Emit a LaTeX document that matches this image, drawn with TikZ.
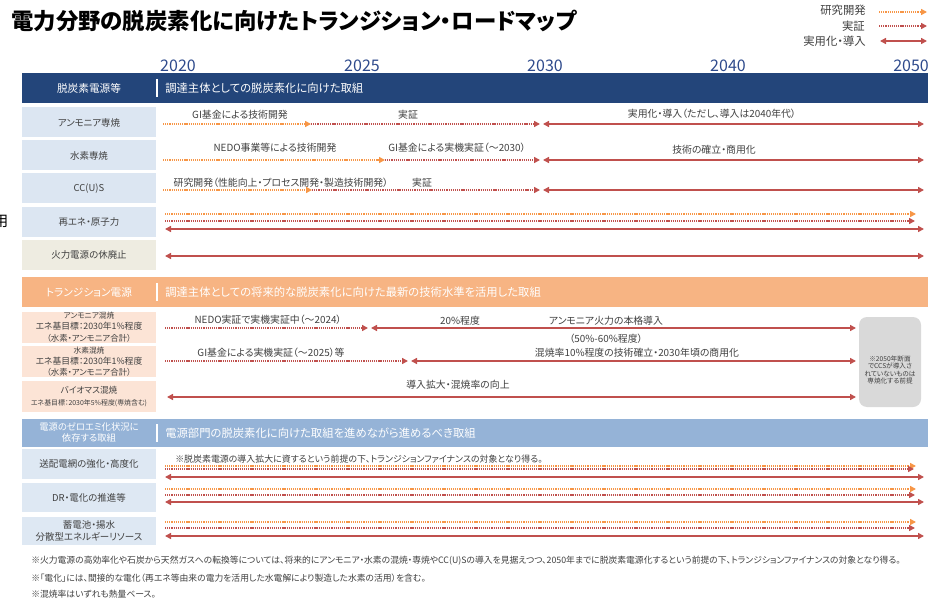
\documentclass[tikz,border=0pt]{standalone}
\usepackage{fontspec}
\setmainfont{Noto Sans CJK JP}[RawFeature=+palt]
\usetikzlibrary{arrows.meta}
\definecolor{navy}{HTML}{23457A}
\definecolor{yearc}{HTML}{2E4A8C}
\definecolor{orhdr}{HTML}{F7B483}
\definecolor{bluehdr}{HTML}{95B3D7}
\definecolor{cellb}{HTML}{DCE6F2}
\definecolor{cellg}{HTML}{EEECE1}
\definecolor{cello}{HTML}{FCE4D6}
\definecolor{cellc}{HTML}{DEE8F3}
\definecolor{devor}{HTML}{F79646}
\definecolor{redc}{HTML}{C0504D}
\definecolor{grayb}{HTML}{D9D9D9}
\definecolor{lbltxt}{HTML}{404040}
\newcommand\fsz[2]{\fontsize{#1}{#2}\selectfont}
\tikzset{
  Tri/.tip={Triangle[length=4.5pt,width=4.5pt]},
  hdrbox/.style={anchor=west, minimum width=679.5pt, minimum height=22.5pt, inner sep=0, draw=none},
  hdrtxt/.style={text=white, font=\fsz{8.5}{10}, inner sep=0},
  hdrsep/.style={draw=white, line width=0.8pt},
  cell/.style={minimum width=100.5pt, minimum height=22.5pt, inner sep=0, text=lbltxt, font=\fsz{7.1}{8.4}, align=center},
  lbl/.style={text=lbltxt, font=\fsz{7.4}{8.6}, inner sep=0},
  year/.style={text=yearc, font=\fsz{12}{14}, inner sep=0},
  legtxt/.style={text=lbltxt, font=\fsz{8.5}{10}, inner sep=0, anchor=east},
  note/.style={text=lbltxt, font=\fsz{6.6}{8}, inner sep=0, anchor=west},
  dev/.style={draw=devor, line width=1.2pt, dash pattern=on 0.9pt off 0.7pt, -{Tri[fill=devor]}},
  demo/.style={draw=redc, line width=1.2pt, dash pattern=on 0.9pt off 0.7pt, -{Tri[fill=redc]}},
  impl/.style={draw=redc, line width=1.4pt, {Tri[fill=redc]}-{Tri[fill=redc]}},
}
\begin{document}
\begin{tikzpicture}[x=0.75pt,y=-0.75pt]
\useasboundingbox (0,0) rectangle (928,606);
\fill[white] (0,0) rectangle (928,606);

% title and stray glyph
\node[anchor=west, font=\fsz{16.8}{19}\bfseries, inner sep=0] (title) at (11,21) {電力分野の脱炭素化に向けたトランジション・ロードマップ};
\node[font=\fsz{11}{13}, inner sep=0] (stray) at (1,221) {用};

% legend
\node[legtxt] (lg1) at (866,10) {研究開発};
\node[legtxt] (lg2) at (865,26) {実証};
\node[legtxt] (lg3) at (866,41) {実用化・導入};
\coordinate (lg1s) at (879,12); \coordinate (lg1e) at (927,12);
\coordinate (lg2s) at (879,26); \coordinate (lg2e) at (927,26);
\coordinate (lg3s) at (880,41); \coordinate (lg3e) at (927,41);
\draw[dev] (lg1s) -- (lg1e);
\draw[demo] (lg2s) -- (lg2e);
\draw[impl] (lg3s) -- (lg3e);

% years
\node[year] (y2020) at (178,66) {2020};
\node[year] (y2025) at (362,66) {2025};
\node[year] (y2030) at (545,66) {2030};
\node[year] (y2040) at (728,66) {2040};
\node[year] (y2050) at (911,66) {2050};

% ===== section 1 =====
\node[hdrbox, fill=navy] (h1) at (22,88) {};
\node[hdrtxt, font=\fsz{8}{10}] (h1l) at (89,88) {脱炭素電源等};
\draw[hdrsep] (157,79) -- (157,97);
\node[hdrtxt, anchor=west] (h1r) at (165,88) {調達主体としての脱炭素化に向けた取組};

\node[cell, fill=cellb] (r1) at (89,122.5) {アンモニア専焼};
\node[cell, fill=cellb] (r2) at (89,155.5) {水素専焼};
\node[cell, fill=cellb] (r3) at (89,188.5) {CC(U)S};
\node[cell, fill=cellb] (r4) at (89,222) {再エネ・原子力};
\node[cell, fill=cellg] (r5) at (89,255) {火力電源の休廃止};

% row 1
\coordinate (a1s) at (163,124); \coordinate (a1m) at (311,124);
\coordinate (a1d) at (540,124); \coordinate (a1i) at (543,124); \coordinate (a1e) at (924,124);
\draw[dev] (a1s) -- (a1m);
\draw[demo] (a1m) -- (a1d);
\draw[impl] (a1i) -- (a1e);
\node[lbl] (l1a) at (240,115) {GI基金による技術開発};
\node[lbl] (l1b) at (408,115) {実証};
\node[lbl] (l1c) at (712,114) {実用化・導入（ただし、導入は2040年代）};

% row 2
\coordinate (a2s) at (163,160); \coordinate (a2m) at (385,160);
\coordinate (a2d) at (540,160); \coordinate (a2i) at (543,160); \coordinate (a2e) at (924,160);
\draw[dev] (a2s) -- (a2m);
\draw[demo] (a2m) -- (a2d);
\draw[impl] (a2i) -- (a2e);
\node[lbl] (l2a) at (275,148) {NEDO事業等による技術開発};
\node[lbl] (l2b) at (457,148) {GI基金による実機実証（～2030）};
\node[lbl] (l2c) at (714,150) {技術の確立・商用化};

% row 3
\coordinate (a3s) at (163,190); \coordinate (a3m) at (312,190);
\coordinate (a3d) at (540,190); \coordinate (a3i) at (543,190); \coordinate (a3e) at (924,190);
\draw[dev] (a3s) -- (a3m);
\draw[demo] (a3m) -- (a3d);
\draw[impl] (a3i) -- (a3e);
\node[lbl] (l3a) at (281,183) {研究開発（性能向上・プロセス開発・製造技術開発）};
\node[lbl] (l3b) at (422,183) {実証};

% row 4
\coordinate (a4s1) at (165,214); \coordinate (a4e1) at (916,214);
\coordinate (a4s2) at (165,221); \coordinate (a4e2) at (915,221);
\coordinate (a4s3) at (165,229); \coordinate (a4e3) at (924,229);
\draw[dev] (a4s1) -- (a4e1);
\draw[demo] (a4s2) -- (a4e2);
\draw[impl] (a4s3) -- (a4e3);

% row 5
\coordinate (a5s) at (165,256); \coordinate (a5e) at (924,256);
\draw[impl] (a5s) -- (a5e);

% ===== section 2 =====
\node[hdrbox, fill=orhdr] (h2) at (22,292) {};
\node[hdrtxt, font=\fsz{8}{10}] (h2l) at (89,292) {トランジション電源};
\draw[hdrsep] (157,283) -- (157,301);
\node[hdrtxt, anchor=west] (h2r) at (165,292) {調達主体としての将来的な脱炭素化に向けた最新の技術水準を活用した取組};

\node[cell, fill=cello, minimum height=23.25pt] (s1) at (89,327) {{\fsz{5.8}{7}アンモニア混焼}\\{\fsz{6.6}{7.6}エネ基目標：2030年1\%程度}\\{\fsz{6.3}{7.4}（水素・アンモニア合計）}};
\node[cell, fill=cello, minimum height=23.25pt] (s2) at (89,361.5) {{\fsz{5.8}{7}水素混焼}\\{\fsz{6.6}{7.6}エネ基目標：2030年1\%程度}\\{\fsz{6.3}{7.4}（水素・アンモニア合計）}};
\node[cell, fill=cello, minimum height=23.25pt] (s3) at (89,396.5) {{\fsz{6.5}{8}バイオマス混焼}\\{\fsz{5.2}{6.5}エネ基目標：2030年5\%程度(専焼含む)}};

% row a
\coordinate (b1s) at (165,328); \coordinate (b1d) at (368,328);
\coordinate (b1i) at (371,328); \coordinate (b1e) at (856,328);
\draw[demo] (b1s) -- (b1d);
\draw[impl] (b1i) -- (b1e);
\node[lbl] (m1a) at (268,320) {NEDO実証で実機実証中（～2024）};
\node[lbl] (m1b) at (460,321) {20\%程度};
\node[lbl] (m1c) at (606,321) {アンモニア火力の本格導入};
\node[lbl] (m1d) at (606,339) {（50\%-60\%程度）};

% row b
\coordinate (b2s) at (165,361); \coordinate (b2d) at (408,361);
\coordinate (b2i) at (411,361); \coordinate (b2e) at (856,361);
\draw[demo] (b2s) -- (b2d);
\draw[impl] (b2i) -- (b2e);
\node[lbl] (m2a) at (271,353) {GI基金による実機実証（～2025）等};
\node[lbl] (m2b) at (637,353) {混焼率10\%程度の技術確立・2030年頃の商用化};

% row c
\coordinate (b3s) at (167,397); \coordinate (b3e) at (856,397);
\draw[impl] (b3s) -- (b3e);
\node[lbl] (m3a) at (458,385) {導入拡大・混焼率の向上};

% gray box
\node[fill=grayb, rounded corners=6pt, minimum width=46.5pt, minimum height=67.5pt, inner sep=0] (gbox) at (890,362) {};
\node[text=lbltxt, font=\fsz{5}{5.4}, align=center, inner sep=0] (gtxt) at (890,370) {※2050年断面\\でCCSが導入さ\\れていないものは\\専焼化する前提};

% ===== section 3 =====
\node[hdrbox, fill=bluehdr, minimum height=21pt] (h3) at (22,433) {};
\node[hdrtxt, font=\fsz{7}{8.2}, align=center] (h3l) at (89,432) {電源のゼロエミ化状況に\\依存する取組};
\draw[hdrsep] (157,424) -- (157,442);
\node[hdrtxt, anchor=west] (h3r) at (165,433) {電源部門の脱炭素化に向けた取組を進めながら進めるべき取組};

\node[cell, fill=cellc] (t1) at (89,464) {送配電網の強化・高度化};
\node[cell, fill=cellc, minimum height=21.75pt] (t2) at (89,497.5) {DR・電化の推進等};
\node[cell, fill=cellc, minimum height=21pt] (t3) at (89,531) {蓄電池・揚水\\分散型エネルギーリソース};

% row i
\node[lbl, font=\fsz{6.7}{8}, anchor=west] (n1) at (175,459) {※脱炭素電源の導入拡大に資するという前提の下、トランジションファイナンスの対象となり得る。};
\coordinate (c1s1) at (165,466); \coordinate (c1e1) at (916,466);
\coordinate (c1s2) at (165,469); \coordinate (c1e2) at (914,469);
\coordinate (c1s3) at (165,477); \coordinate (c1e3) at (924,477);
\draw[dev] (c1s1) -- (c1e1);
\draw[demo] (c1s2) -- (c1e2);
\draw[impl] (c1s3) -- (c1e3);

% row ii
\coordinate (c2s1) at (165,489); \coordinate (c2e1) at (916,489);
\coordinate (c2s2) at (165,495); \coordinate (c2e2) at (915,495);
\coordinate (c2s3) at (165,502); \coordinate (c2e3) at (924,502);
\draw[dev] (c2s1) -- (c2e1);
\draw[demo] (c2s2) -- (c2e2);
\draw[impl] (c2s3) -- (c2e3);

% row iii
\coordinate (c3s1) at (165,522); \coordinate (c3e1) at (916,522);
\coordinate (c3s2) at (165,528); \coordinate (c3e2) at (915,528);
\coordinate (c3s3) at (165,536); \coordinate (c3e3) at (924,536);
\draw[dev] (c3s1) -- (c3e1);
\draw[demo] (c3s2) -- (c3e2);
\draw[impl] (c3s3) -- (c3e3);

% notes
\node[note] (nt1) at (31,561) {※火力電源の高効率化や石炭から天然ガスへの転換等については、将来的にアンモニア・水素の混焼・専焼やCC(U)Sの導入を見据えつつ、2050年までに脱炭素電源化するという前提の下、トランジションファイナンスの対象となり得る。};
\node[note] (nt2) at (31,578) {※「電化」には、間接的な電化（再エネ等由来の電力を活用した水電解により製造した水素の活用）を含む。};
\node[note] (nt3) at (31,594) {※混焼率はいずれも熱量ベース。};
\end{tikzpicture}
\end{document}
